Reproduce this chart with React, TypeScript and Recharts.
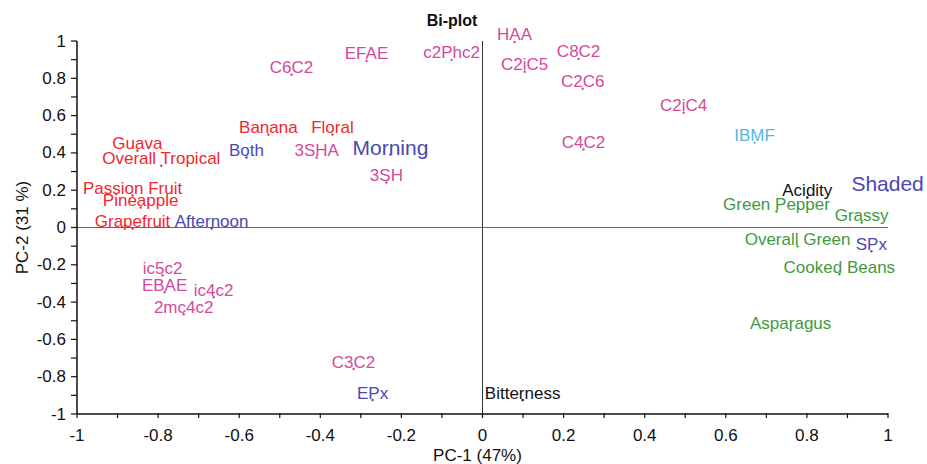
import * as React from "react";
import {
  ScatterChart,
  Scatter,
  XAxis,
  YAxis,
  ReferenceLine,
  Label,
} from "recharts";

type Pt = { name: string; x: number; y: number };

// PCA bi-plot loadings / scores
const flavourPoints: Pt[] = [
  { name: "Guava", x: -0.851, y: 0.412 },
  { name: "Overall Tropical", x: -0.792, y: 0.332 },
  { name: "Passion Fruit", x: -0.863, y: 0.172 },
  { name: "Pineapple", x: -0.843, y: 0.107 },
  { name: "Grapefruit", x: -0.863, y: -0.005 },
  { name: "Banana", x: -0.528, y: 0.498 },
  { name: "Floral", x: -0.37, y: 0.498 },
];

const samplePoints: Pt[] = [
  { name: "Both", x: -0.582, y: 0.375 },
  { name: "Afternoon", x: -0.668, y: -0.005 },
  { name: "Morning", x: -0.227, y: 0.391 },
  { name: "Shaded", x: 0.999, y: 0.198 },
  { name: "SPx", x: 0.959, y: -0.128 },
  { name: "EPx", x: -0.271, y: -0.925 },
];

const compoundPoints: Pt[] = [
  { name: "C6C2", x: -0.471, y: 0.819 },
  { name: "EFAE", x: -0.286, y: 0.893 },
  { name: "c2Phc2", x: -0.076, y: 0.899 },
  { name: "HAA", x: 0.079, y: 0.995 },
  { name: "C2iC5", x: 0.104, y: 0.835 },
  { name: "C8C2", x: 0.237, y: 0.904 },
  { name: "C2C6", x: 0.247, y: 0.744 },
  { name: "C2iC4", x: 0.496, y: 0.615 },
  { name: "C4C2", x: 0.249, y: 0.418 },
  { name: "3SHA", x: -0.409, y: 0.375 },
  { name: "3SH", x: -0.237, y: 0.241 },
  { name: "ic5c2", x: -0.789, y: -0.256 },
  { name: "EBAE", x: -0.784, y: -0.347 },
  { name: "ic4c2", x: -0.663, y: -0.374 },
  { name: "2mc4c2", x: -0.737, y: -0.465 },
  { name: "C3C2", x: -0.318, y: -0.759 },
];

const pyrazinePoints: Pt[] = [{ name: "IBMF", x: 0.671, y: 0.455 }];

const greenPoints: Pt[] = [
  { name: "Green Pepper", x: 0.725, y: 0.086 },
  { name: "Grassy", x: 0.935, y: 0.027 },
  { name: "Overall Green", x: 0.777, y: -0.101 },
  { name: "Cooked Beans", x: 0.88, y: -0.251 },
  { name: "Asparagus", x: 0.76, y: -0.55 },
];

const tastePoints: Pt[] = [
  { name: "Acidity", x: 0.801, y: 0.161 },
  { name: "Bitterness", x: 0.099, y: -0.925 },
];

const axisTicks = [
  -1, -0.9, -0.8, -0.7, -0.6, -0.5, -0.4, -0.3, -0.2, -0.1, 0, 0.1, 0.2, 0.3,
  0.4, 0.5, 0.6, 0.7, 0.8, 0.9, 1,
];

const LARGE = new Set(["Morning", "Shaded"]);
const FONT = "'Liberation Sans', Arial, sans-serif";

function isMajor(v: number) {
  return Math.round(v * 10) % 2 === 0;
}

function tickText(v: number) {
  return String(Number(v.toFixed(1)));
}

// label sits just above its point, with a tiny dot at the point itself
function labelShape(color: string) {
  return (props: any) => {
    const { cx, cy, payload } = props;
    if (cx == null || cy == null) return <g />;
    const big = LARGE.has(payload.name);
    return (
      <g>
        <circle cx={cx} cy={cy} r={1.2} fill={color} />
        <text
          x={cx}
          y={cy - 7}
          textAnchor="middle"
          dominantBaseline="central"
          fill={color}
          fontSize={big ? 21 : 17}
          fontFamily={FONT}
        >
          {payload.name}
        </text>
      </g>
    );
  };
}

const XTick = (props: any) => {
  const { x, y, payload } = props;
  const v = Number(payload.value);
  return (
    <g>
      <line x1={x} y1={y - 1} x2={x} y2={y + 4} stroke="#111" strokeWidth={1.2} />
      {isMajor(v) && (
        <text
          x={x}
          y={y + 21}
          textAnchor="middle"
          dominantBaseline="central"
          fontSize={17}
          fontFamily={FONT}
          fill="#111"
        >
          {tickText(v)}
        </text>
      )}
    </g>
  );
};

const YTick = (props: any) => {
  const { x, y, payload } = props;
  const v = Number(payload.value);
  return (
    <g>
      <line x1={x - 6} y1={y} x2={x} y2={y} stroke="#111" strokeWidth={1.2} />
      {isMajor(v) && (
        <text
          x={x - 11}
          y={y}
          textAnchor="end"
          dominantBaseline="central"
          fontSize={17}
          fontFamily={FONT}
          fill="#111"
        >
          {tickText(v)}
        </text>
      )}
    </g>
  );
};

export default function App() {
  return (
    <div style={{ width: 927, height: 464, background: "#fff" }}>
      <style>{"body{margin:0}"}</style>
      <ScatterChart
        width={927}
        height={464}
        margin={{ top: 41, right: 39, bottom: 0, left: 0 }}
      >
        <XAxis
          type="number"
          dataKey="x"
          domain={[-1, 1]}
          ticks={axisTicks}
          interval={0}
          height={50}
          tickSize={0}
          tickMargin={0}
          tickLine={false}
          tick={<XTick />}
          axisLine={{ stroke: "#111", strokeWidth: 1.5 }}
        >
          <Label
            content={(p: any) => {
              const vb = p.viewBox;
              return (
                <text
                  x={vb.x + vb.width / 2 - 5}
                  y={455}
                  textAnchor="middle"
                  dominantBaseline="central"
                  fontSize={17}
                  fontFamily={FONT}
                  fill="#111"
                >
                  PC-1 (47%)
                </text>
              );
            }}
          />
        </XAxis>
        <YAxis
          type="number"
          dataKey="y"
          domain={[-1, 1]}
          ticks={axisTicks}
          interval={0}
          width={77}
          tickSize={0}
          tickMargin={0}
          tickLine={false}
          tick={<YTick />}
          axisLine={{ stroke: "#111", strokeWidth: 1.5 }}
        >
          <Label
            content={(p: any) => {
              const vb = p.viewBox;
              const cy = vb.y + vb.height / 2;
              return (
                <text
                  x={22}
                  y={cy}
                  transform={`rotate(-90, 22, ${cy})`}
                  textAnchor="middle"
                  dominantBaseline="central"
                  fontSize={17}
                  fontFamily={FONT}
                  fill="#111"
                >
                  PC-2 (31 %)
                </text>
              );
            }}
          />
        </YAxis>
        <ReferenceLine y={0} stroke="#666" strokeWidth={1.2} />
        <ReferenceLine x={0} stroke="#333" strokeWidth={1} />
        <ReferenceLine
          y={1}
          stroke="none"
          label={() => (
            <text
              x={452}
              y={20}
              textAnchor="middle"
              dominantBaseline="central"
              fontSize={16}
              fontWeight="bold"
              fontFamily={FONT}
              fill="#111"
            >
              Bi-plot
            </text>
          )}
        />
        <Scatter data={compoundPoints} shape={labelShape("#d4499b")} isAnimationActive={false} />
        <Scatter data={flavourPoints} shape={labelShape("#f0282d")} isAnimationActive={false} />
        <Scatter data={samplePoints} shape={labelShape("#4a48b2")} isAnimationActive={false} />
        <Scatter data={pyrazinePoints} shape={labelShape("#58b4e6")} isAnimationActive={false} />
        <Scatter data={greenPoints} shape={labelShape("#3f9a3f")} isAnimationActive={false} />
        <Scatter data={tastePoints} shape={labelShape("#111")} isAnimationActive={false} />
      </ScatterChart>
    </div>
  );
}
